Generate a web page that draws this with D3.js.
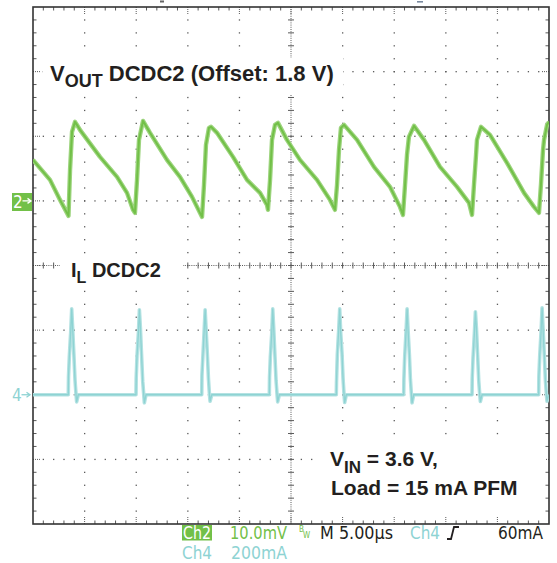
<!DOCTYPE html>
<html><head><meta charset="utf-8">
<script src="https://cdn.jsdelivr.net/npm/d3@7"></script>
<style>body{margin:0;background:#fff}svg{display:block}</style>
</head><body>
<svg id="c" width="557" height="563"></svg>
<script>
// ---- axes / scope settings ----
const timeDomain = [-25, 25];      // µs  (5.00 µs/div, 10 div)
const divDomain  = [-4, 4];        // vertical divisions
const vDomain    = [-50, 30];      // mV  (Ch2 10.0 mV/div, ground at +1 div)
const iDomain    = [-400, 1200];   // mA  (Ch4 200 mA/div, ground at -2 div)

// ---- Ch2: VOUT DCDC2 ripple (mV, relative to 1.8 V offset) ----
const voutTime = [
  -25.00,-23.35,-22.38,-21.71,-21.56, -21.41,-21.22,-20.93,-20.74,
  -20.45,-18.51,-16.86,-15.89,-15.31,-15.12, -14.92,-14.73,-14.34,
  -13.66,-12.02,-10.76,-9.59,-8.82,-8.62, -8.43,-8.24,-7.95,-7.75,
  -7.17,-5.62,-4.26,-3.00,-2.33,-2.23, -2.03,-1.84,-1.55,-1.26,
  -0.39,0.87,2.52,3.78,4.26, 4.46,4.65,4.84,5.14,
  6.40,8.04,9.59,10.56,10.85, 11.05,11.24,11.43,11.92,
  12.89,14.44,16.09,17.25,17.54, 17.73,17.93,18.02,18.41,
  19.28,20.93,22.58,23.55,24.03, 24.22,24.42,24.52,24.81,25.00];
const voutMv = [
  6.35,3.25,0.15,-1.86,-2.32, 4.80,10.68,12.23,11.76,
  10.99,6.81,3.72,1.24,-1.39,-1.86, 3.25,9.44,12.38,
  10.53,6.35,3.72,0.62,-1.86,-2.48, 2.48,8.67,11.30,11.46,
  10.53,6.81,3.25,1.24,-0.62,-1.39, 3.25,9.44,11.76,12.07,
  9.44,6.35,3.25,0.15,-1.39, 2.48,7.89,11.30,11.76,
  9.44,5.26,2.17,-0.93,-2.17, 2.48,7.12,9.91,11.61,
  9.44,5.26,2.17,-0.31,-2.17, 2.48,7.12,9.44,11.46,
  10.22,5.88,1.24,-0.93,-1.86, 2.48,7.89,9.44,11.76,12.23];

// ---- Ch4: IL DCDC2 inductor current (mA) ----
const ilTime = [-25.00,
  -21.58,-21.56,-21.48,-21.35,-21.25,-21.15,-21.03,-20.93,-20.83,-20.77,-20.61,
  -15.02,-15.00,-14.92,-14.79,-14.69,-14.59,-14.47,-14.37,-14.27,-14.21,-14.05,
  -8.65,-8.63,-8.55,-8.42,-8.32,-8.22,-8.10,-8.00,-7.90,-7.84,-7.68,
  -2.10,-2.08,-2.00,-1.87,-1.77,-1.67,-1.55,-1.45,-1.35,-1.29,-1.13,
  4.39,4.41,4.49,4.62,4.72,4.82,4.94,5.04,5.14,5.20,5.36,
  10.92,10.94,11.02,11.15,11.25,11.35,11.47,11.57,11.67,11.73,11.89,
  17.54,17.56,17.64,17.77,17.87,17.97,18.09,18.19,18.29,18.35,18.51,
  24.00,24.02,24.10,24.23,24.33,24.43,24.55,24.65,24.75,24.81,24.97];
const ilMa = [0,
  0,56,118,192,266,201,118,46,0,-22,0,
  0,52,121,190,263,205,115,42,0,-25,0,
  0,60,112,195,263,198,122,50,0,-20,0,
  0,55,118,188,266,202,116,45,0,-22,0,
  0,40,125,200,266,190,130,52,0,-24,0,
  0,48,120,196,266,196,125,48,0,-25,0,
  0,52,115,190,257,205,118,44,0,-21,0,
  0,58,120,194,269,200,118,46,0,-20,0];

// ---- text ----
const titleMain = ["V", "OUT", " DCDC2 (Offset: 1.8 V)"];
const ilLabel   = ["I", "L", " DCDC2"];
const condLine1 = ["V", "IN", " = 3.6 V,"];
const condLine2 = "Load = 15 mA PFM";
const statusCh2 = ["Ch2", "10.0mV"];
const statusCh4 = ["Ch4", "200mA"];
const statusTime = "M 5.00µs";
const trigSource = "Ch4";
const trigLevel = "60mA";
const chMarkers = ["2", "4"];

// ---- colours ----
const GREEN = "#72c048", GREEN_LT = "#9dd47e";
const CYAN = "#8ed3d3", CYAN_LT = "#b4e2e2";
const INK = "#231f20", GRID = "#5a5a5a";

const svg = d3.select("#c");
const L = 33, R = 549, T = 7, B = 524;
const x = d3.scaleLinear().domain(timeDomain).range([L, R]);
const yd = d3.scaleLinear().domain(divDomain).range([B, T]);
const yv = d3.scaleLinear().domain(vDomain).range([B, T]);
const yi = d3.scaleLinear().domain(iDomain).range([B, T]);
const cx = x(0), cy = yd(0);

const g = svg.append("g");
// graticule dots on major lines
const minorT = d3.range(-24, 24.5, 1);
const minorD = d3.range(-3.8, 3.85, 0.2).map(v => +v.toFixed(2));
const majorT = [-20,-15,-10,-5,5,10,15,20];
const majorD = [-3,-2,-1,1,2,3];
majorD.forEach(d => minorT.forEach(t => {
  g.append("rect").attr("x", x(t)-0.6).attr("y", yd(d)-0.6).attr("width",1.3).attr("height",1.3).attr("fill",GRID);
}));
majorT.forEach(t => minorD.forEach(d => {
  g.append("rect").attr("x", x(t)-0.6).attr("y", yd(d)-0.6).attr("width",1.3).attr("height",1.3).attr("fill",GRID);
}));
// centre lines
g.append("line").attr("x1",L).attr("x2",R).attr("y1",cy).attr("y2",cy)
  .attr("stroke",GRID).attr("stroke-width",1).attr("stroke-dasharray","1,1.2");
g.append("line").attr("y1",T).attr("y2",B).attr("x1",cx).attr("x2",cx)
  .attr("stroke",GRID).attr("stroke-width",1).attr("stroke-dasharray","1,1.2");
minorT.forEach(t => g.append("line").attr("x1",x(t)).attr("x2",x(t)).attr("y1",cy-3).attr("y2",cy+3).attr("stroke",GRID).attr("stroke-width",1));
minorD.forEach(d => g.append("line").attr("y1",yd(d)).attr("y2",yd(d)).attr("x1",cx-3).attr("x2",cx+3).attr("stroke",GRID).attr("stroke-width",1));
// edge ticks
minorT.forEach(t => {
  const big = majorT.includes(t) || t === 0;
  const len = big ? 8 : 3.5;
  g.append("line").attr("x1",x(t)).attr("x2",x(t)).attr("y1",T).attr("y2",T+len).attr("stroke",GRID).attr("stroke-width",1).attr("stroke-dasharray", big ? "1,1":null);
  g.append("line").attr("x1",x(t)).attr("x2",x(t)).attr("y1",B).attr("y2",B-len).attr("stroke",GRID).attr("stroke-width",1).attr("stroke-dasharray", big ? "1,1":null);
});
minorD.forEach(d => {
  const big = majorD.includes(d) || d === 0;
  const len = big ? 8 : 3.5;
  g.append("line").attr("y1",yd(d)).attr("y2",yd(d)).attr("x1",L).attr("x2",L+len).attr("stroke",GRID).attr("stroke-width",1).attr("stroke-dasharray", big ? "1,1":null);
  g.append("line").attr("y1",yd(d)).attr("y2",yd(d)).attr("x1",R).attr("x2",R-len).attr("stroke",GRID).attr("stroke-width",1).attr("stroke-dasharray", big ? "1,1":null);
});
// frame
g.append("rect").attr("x",L).attr("y",T).attr("width",R-L).attr("height",B-T)
  .attr("fill","none").attr("stroke","#333").attr("stroke-width",1.6);

// label backgrounds (hide graticule)
const bg = (x0,y0,w,h) => svg.append("rect").attr("x",x0).attr("y",y0).attr("width",w).attr("height",h).attr("fill","#fff");
bg(43,58,300,36);
bg(60,255,123,32);
bg(318,440,227,72);

// traces
svg.append("clipPath").attr("id","clip").append("rect").attr("x",L).attr("y",T).attr("width",R-L).attr("height",B-T);
const tg = svg.append("g").attr("clip-path","url(#clip)");
const vData = d3.zip(voutTime, voutMv);
const iData = d3.zip(ilTime, ilMa);
const lv = d3.line().x(d => x(d[0])).y(d => yv(d[1]));
const li = d3.line().x(d => x(d[0])).y(d => yi(d[1]));
tg.append("path").attr("d", li(iData)).attr("fill","none").attr("stroke",CYAN_LT).attr("stroke-width",3.6).attr("stroke-linejoin","round");
tg.append("path").attr("d", li(iData)).attr("fill","none").attr("stroke",CYAN).attr("stroke-width",1.3).attr("stroke-linejoin","round");
tg.append("path").attr("d", lv(vData)).attr("fill","none").attr("stroke",GREEN_LT).attr("stroke-width",4.4).attr("stroke-linejoin","round");
tg.append("path").attr("d", lv(vData)).attr("fill","none").attr("stroke",GREEN).attr("stroke-width",2).attr("stroke-linejoin","round");

// labels
const FONT = "'Liberation Sans', Arial, Helvetica, sans-serif";
function subLabel(parts, x0, y0, size, subSize, subDy) {
  const t = svg.append("text").attr("x",x0).attr("y",y0).attr("font-family",FONT)
    .attr("font-weight","bold").attr("font-size",size).attr("fill",INK);
  t.append("tspan").text(parts[0]);
  t.append("tspan").attr("font-size",subSize).attr("dy",subDy).text(parts[1]);
  t.append("tspan").attr("dy",-subDy).text(parts[2]);
  return t;
}
subLabel(titleMain, 50, 81, 22, 18, 6);
subLabel(ilLabel, 71, 277, 20, 16, 6);
subLabel(condLine1, 330, 466, 21, 17, 7);
svg.append("text").attr("x",331).attr("y",495).attr("font-family",FONT).attr("font-weight","bold")
  .attr("font-size",21).attr("fill",INK).text(condLine2);

// channel markers
const SF = "'Liberation Sans Narrow','DejaVu Sans Condensed','Liberation Sans',sans-serif";
const arrow = (x0, y0, col) => {
  svg.append("line").attr("x1",x0).attr("x2",x0+8).attr("y1",y0).attr("y2",y0).attr("stroke",col).attr("stroke-width",1.3);
  svg.append("path").attr("d",`M${x0+5},${y0-2.5} L${x0+8.5},${y0} L${x0+5},${y0+2.5}`).attr("fill","none").attr("stroke",col).attr("stroke-width",1.3);
};
svg.append("rect").attr("x",12).attr("y",193).attr("width",20).attr("height",18).attr("fill",GREEN);
svg.append("text").attr("x",13).attr("y",208).attr("font-family",SF).attr("font-size",17).attr("fill","#fff").text(chMarkers[0]);
arrow(22.5, yv(0), "#fff");
svg.append("text").attr("x",12).attr("y",401).attr("font-family",SF).attr("font-size",17).attr("fill",CYAN).text(chMarkers[1]);
arrow(21.5, yi(0), CYAN);
// top markers
svg.append("rect").attr("x",160).attr("y",0.5).attr("width",4).attr("height",2).attr("fill","#666");
svg.append("rect").attr("x",417).attr("y",1).attr("width",6).attr("height",1.6).attr("fill","#7a8aa0");

// status bar
const st = (txt, x0, y0, w, col) => svg.append("text").attr("x",x0).attr("y",y0).attr("font-family",SF)
  .attr("font-size",17.5).attr("fill",col).attr("textLength",w).attr("lengthAdjust","spacingAndGlyphs").text(txt);
svg.append("rect").attr("x",182).attr("y",525).attr("width",30).attr("height",15.5).attr("fill",GREEN);
st(statusCh2[0], 183, 539, 28, "#fff");
st(statusCh2[1], 230, 539, 57, GREEN);
svg.append("text").attr("x",299).attr("y",532).attr("font-family",SF).attr("font-size",8).attr("fill",GREEN).text("B");
svg.append("text").attr("x",303).attr("y",538).attr("font-family",SF).attr("font-size",8).attr("fill",GREEN).text("W");
st(statusTime, 320, 539, 73, INK);
st(trigSource, 410, 539, 30, CYAN);
svg.append("path").attr("d","M447,539 L451,539 L454,527 L459,527").attr("fill","none").attr("stroke",INK).attr("stroke-width",1.8);
st(trigLevel, 498, 539, 45, INK);
st(statusCh4[0], 182, 559, 30, CYAN);
st(statusCh4[1], 231, 559, 56, CYAN);
</script>
</body></html>
